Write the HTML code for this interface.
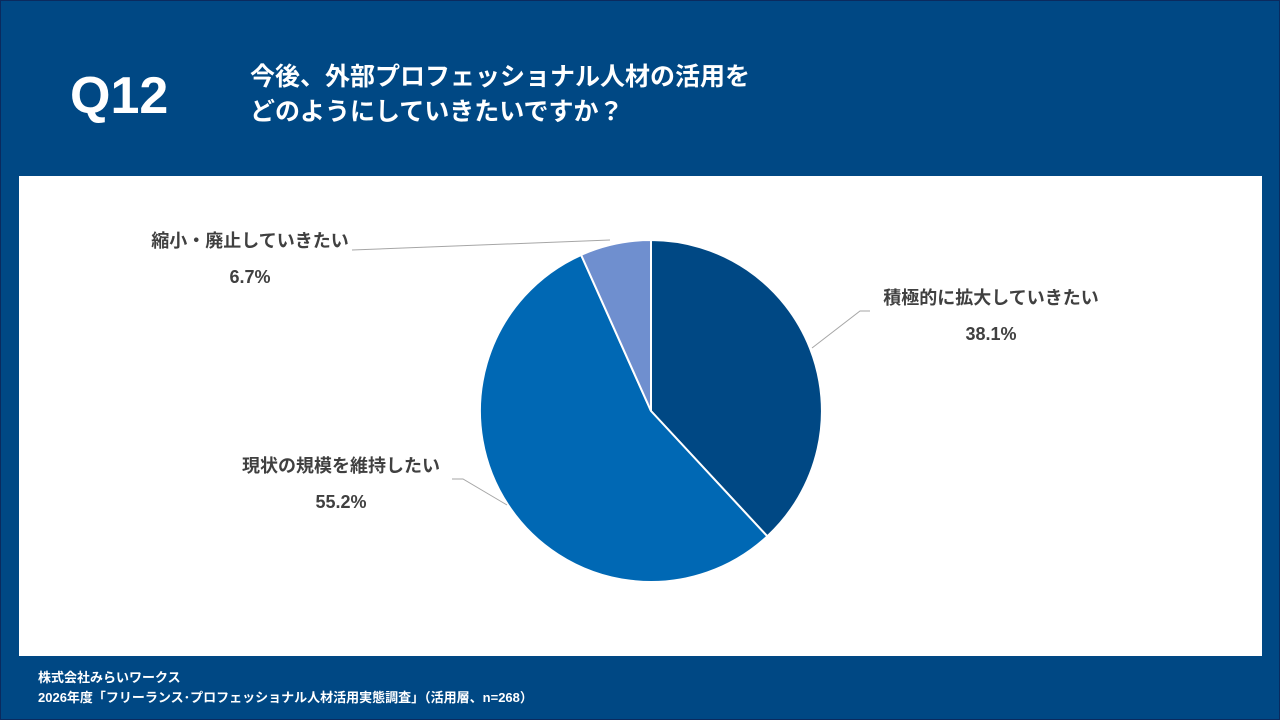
<!DOCTYPE html>
<html><head><meta charset="utf-8"><style>
body{margin:0;width:1280px;height:720px;overflow:hidden;background:#004884;font-family:"Liberation Sans","Noto Sans CJK JP",sans-serif;}
.b{position:absolute;left:0;top:0;width:1278px;height:718px;border:1px solid #0b2a5e;}
.t{position:absolute;color:#fff;font-weight:bold;white-space:nowrap;}
.panel{position:absolute;left:19px;top:176px;width:1243px;height:480px;background:#fff;}
.l{position:absolute;color:#404040;font-weight:bold;font-size:18px;white-space:nowrap;text-align:center;line-height:36px;}
</style></head><body>
<div class="b"></div>
<div class="t" style="left:70px;top:66px;font-size:52px;line-height:60px;">Q12</div>
<div class="t" style="left:250px;top:60px;font-size:25px;line-height:35px;">今後、外部プロフェッショナル人材の活用を<br>どのようにしていきたいですか？</div>
<div class="panel"></div>
<svg style="position:absolute;left:0;top:0" width="1280" height="720">
<path d="M651,411 L651,240 A171,171 0 0 1 767.3,536.3 Z" fill="#004884" stroke="#fff" stroke-width="2"/>
<path d="M651,411 L767.3,536.3 A171,171 0 1 1 581.1,254.9 Z" fill="#0068b4" stroke="#fff" stroke-width="2"/>
<path d="M651,411 L581.1,254.9 A171,171 0 0 1 651,240 Z" fill="#6f8fcf" stroke="#fff" stroke-width="2"/>
<polyline points="812,348 860,311 870,311" fill="none" stroke="#a6a6a6" stroke-width="1"/>
<polyline points="352,250 610,240" fill="none" stroke="#a6a6a6" stroke-width="1"/>
<polyline points="452,479 463,479 507,505" fill="none" stroke="#a6a6a6" stroke-width="1"/>
</svg>
<div class="l" style="left:870px;top:280px;width:242px;">積極的に拡大していきたい<br>38.1%</div>
<div class="l" style="left:145px;top:223px;width:210px;">縮小・廃止していきたい<br>6.7%</div>
<div class="l" style="left:228px;top:448px;width:226px;">現状の規模を維持したい<br>55.2%</div>
<div class="t" style="left:38px;top:668px;font-size:13px;line-height:20px;">株式会社みらいワークス<br>2026年度「フリーランス･プロフェッショナル人材活用実態調査」（活用層、n=268）</div>
</body></html>
